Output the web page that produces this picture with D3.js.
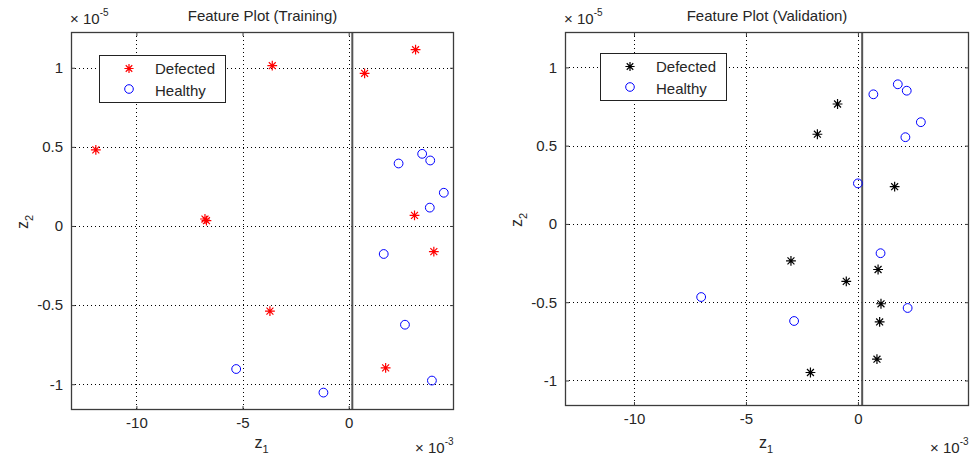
<!DOCTYPE html>
<html>
<head>
<meta charset="utf-8">
<script src="https://cdn.jsdelivr.net/npm/d3@7"></script>
<style>
  html, body { margin: 0; padding: 0; background: #fff; }
  svg { display: block; font-family: "Liberation Sans", Arial, Helvetica, sans-serif; }
</style>
</head>
<body>
<svg id="chart" width="970" height="461"></svg>
<script>
// Feature values: z1 in units of 1e-3, z2 in units of 1e-5
const trainDefectedZ1 = [3.15, -3.60, 0.75, -11.91, -6.77, -6.70, 3.10, 4.01, -3.71, 1.74];
const trainDefectedZ2 = [1.114, 1.013, 0.965, 0.481, 0.044, 0.034, 0.067, -0.162, -0.538, -0.897];
const trainHealthyZ1 = [3.46, 3.84, 2.35, 4.48, 3.82, 1.65, 2.65, -5.30, 3.92, -1.19];
const trainHealthyZ2 = [0.456, 0.414, 0.395, 0.210, 0.116, -0.177, -0.624, -0.904, -0.977, -1.053];

const validDefectedZ1 = [-0.91, -1.81, 1.64, -2.99, 0.90, -0.52, 1.03, 0.97, 0.85, -2.12];
const validDefectedZ2 = [0.766, 0.573, 0.238, -0.236, -0.291, -0.367, -0.510, -0.626, -0.864, -0.949];
const validHealthyZ1 = [1.78, 2.18, 0.69, 2.81, 2.12, 0.00, 1.01, 2.22, -7.00, -2.85];
const validHealthyZ2 = [0.892, 0.851, 0.828, 0.650, 0.554, 0.259, -0.187, -0.537, -0.467, -0.620];

// Decision boundary position on z1 for each panel
const boundaryZ1 = [0.17, 0.19];

const xTicks = [-10, -5, 0];
const yTicks = [-1, -0.5, 0, 0.5, 1];
const xTickLabels = ["-10", "-5", "0"];
const yTickLabels = ["-1", "-0.5", "0", "0.5", "1"];
const titles = ["Feature Plot (Training)", "Feature Plot (Validation)"];
const legendLabels = ["Defected", "Healthy"];

const xDomain = [-13.08, 4.96];
const yDomain = [-1.163, 1.226];

const svg = d3.select("#chart");
const textColor = "#262626";
const boxColor = "#3c3c3c";
const fontFamily = "'Liberation Sans', Arial, Helvetica, sans-serif";

// 8-spoke asterisk path centered at origin
function asteriskPath(r) {
  const d = r * Math.SQRT1_2;
  return `M${-r},0L${r},0M0,${-r}L0,${r}M${-d},${-d}L${d},${d}M${-d},${d}L${d},${-d}`;
}

function drawPanel(p) {
  const g = svg.append("g");
  const x = d3.scaleLinear().domain(xDomain).range([p.left, p.right]);
  const y = d3.scaleLinear().domain(yDomain).range([p.bottom, p.top]);

  // dotted grid
  g.append("g").selectAll("line").data(xTicks).join("line")
    .attr("x1", d => Math.round(x(d)) + 0.5).attr("x2", d => Math.round(x(d)) + 0.5)
    .attr("y1", p.top).attr("y2", p.bottom)
    .attr("stroke", "#000").attr("stroke-width", 1).attr("stroke-dasharray", "1,3");
  g.append("g").selectAll("line").data(yTicks).join("line")
    .attr("y1", d => Math.round(y(d)) + 0.5).attr("y2", d => Math.round(y(d)) + 0.5)
    .attr("x1", p.left).attr("x2", p.right)
    .attr("stroke", "#000").attr("stroke-width", 1).attr("stroke-dasharray", "1,3");

  // boundary line
  g.append("line")
    .attr("x1", x(p.boundary)).attr("x2", x(p.boundary))
    .attr("y1", p.top).attr("y2", p.bottom)
    .attr("stroke", "#555").attr("stroke-width", 2);

  // axes with inward ticks on all sides
  const axB = d3.axisBottom(x).tickValues(xTicks).tickFormat((d, i) => xTickLabels[i])
    .tickSizeInner(-4).tickSizeOuter(0).tickPadding(7);
  const axT = d3.axisTop(x).tickValues(xTicks).tickFormat("").tickSizeInner(-4).tickSizeOuter(0);
  const axL = d3.axisLeft(y).tickValues(yTicks).tickFormat((d, i) => yTickLabels[i])
    .tickSizeInner(-4).tickSizeOuter(0).tickPadding(8);
  const axR = d3.axisRight(y).tickValues(yTicks).tickFormat("").tickSizeInner(-4).tickSizeOuter(0);

  const styleAxis = sel => {
    sel.attr("font-size", null).attr("font-family", null);
    sel.select(".domain").remove();
    sel.selectAll("line").attr("stroke", boxColor);
    sel.selectAll("text").attr("fill", textColor).style("font-size", "15px")
      .style("font-family", fontFamily);
  };
  g.append("g").attr("transform", `translate(0,${p.bottom})`).call(axB).call(styleAxis);
  g.append("g").attr("transform", `translate(0,${p.top})`).call(axT).call(styleAxis);
  g.append("g").attr("transform", `translate(${p.left},0)`).call(axL).call(styleAxis);
  g.append("g").attr("transform", `translate(${p.right},0)`).call(axR).call(styleAxis);

  // box
  g.append("rect")
    .attr("x", p.left + 0.5).attr("y", p.top + 0.5)
    .attr("width", p.right - p.left - 1).attr("height", p.bottom - p.top - 1)
    .attr("fill", "none").attr("stroke", boxColor).attr("stroke-width", 1.3);

  // markers
  const defected = p.dz1.map((v, i) => [v, p.dz2[i]]);
  const healthy = p.hz1.map((v, i) => [v, p.hz2[i]]);
  g.append("g").selectAll("circle").data(healthy).join("circle")
    .attr("cx", d => x(d[0])).attr("cy", d => y(d[1])).attr("r", 4.4)
    .attr("fill", "none").attr("stroke", "#0000ff").attr("stroke-width", 1);
  g.append("g").selectAll("path").data(defected).join("path")
    .attr("transform", d => `translate(${x(d[0])},${y(d[1])})`)
    .attr("d", asteriskPath(4.9))
    .attr("fill", "none").attr("stroke", p.starColor).attr("stroke-width", 1.2);

  // legend
  const lg = g.append("g").attr("transform", `translate(${p.legend[0]},${p.legend[1]})`);
  lg.append("rect").attr("x", 0.5).attr("y", 0.5).attr("width", 126).attr("height", 47)
    .attr("fill", "#fff").attr("stroke", "#222").attr("stroke-width", 1);
  lg.append("path").attr("transform", "translate(30,13.5)").attr("d", asteriskPath(4.6))
    .attr("fill", "none").attr("stroke", p.starColor).attr("stroke-width", 1.2);
  lg.append("circle").attr("cx", 30).attr("cy", 34).attr("r", 4.3)
    .attr("fill", "none").attr("stroke", "#0000ff").attr("stroke-width", 1);
  lg.selectAll("text").data(legendLabels).join("text")
    .attr("x", 56).attr("y", (d, i) => 19 + i * 22)
    .attr("fill", textColor).style("font-size", "15px").text(d => d);

  // title
  g.append("text").attr("x", (p.left + p.right) / 2).attr("y", 21)
    .attr("text-anchor", "middle").attr("fill", textColor).style("font-size", "15px")
    .text(p.title);

  // exponent labels
  const ey = g.append("text").attr("x", p.left - 1).attr("y", 24)
    .attr("fill", textColor).style("font-size", "15px");
  ey.append("tspan").text("\u00d7 10");
  ey.append("tspan").attr("dy", -8).style("font-size", "10px").text("-5");

  const ex = g.append("text").attr("x", p.right - 39).attr("y", 453)
    .attr("fill", textColor).style("font-size", "15px");
  ex.append("tspan").text("\u00d7 10");
  ex.append("tspan").attr("dy", -8).style("font-size", "10px").text("-3");

  // axis labels
  const xl = g.append("text").attr("x", (p.left + p.right) / 2 - 8).attr("y", 448)
    .attr("fill", textColor).style("font-size", "16px");
  xl.append("tspan").text("z");
  xl.append("tspan").attr("dy", 5).style("font-size", "11px").text("1");

  const yl = g.append("text")
    .attr("transform", `translate(${p.left - 43},${(p.top + p.bottom) / 2 + 8}) rotate(-90)`)
    .attr("fill", textColor).style("font-size", "16px");
  yl.append("tspan").text("z");
  yl.append("tspan").attr("dy", 5).style("font-size", "11px").text("2");
}

drawPanel({
  left: 71, right: 454, top: 32, bottom: 410,
  boundary: boundaryZ1[0], title: titles[0], starColor: "#ff0000",
  dz1: trainDefectedZ1, dz2: trainDefectedZ2, hz1: trainHealthyZ1, hz2: trainHealthyZ2,
  legend: [99, 55]
});
drawPanel({
  left: 565, right: 969, top: 32, bottom: 406,
  boundary: boundaryZ1[1], title: titles[1], starColor: "#000000",
  dz1: validDefectedZ1, dz2: validDefectedZ2, hz1: validHealthyZ1, hz2: validHealthyZ2,
  legend: [600, 53]
});
</script>
</body>
</html>
